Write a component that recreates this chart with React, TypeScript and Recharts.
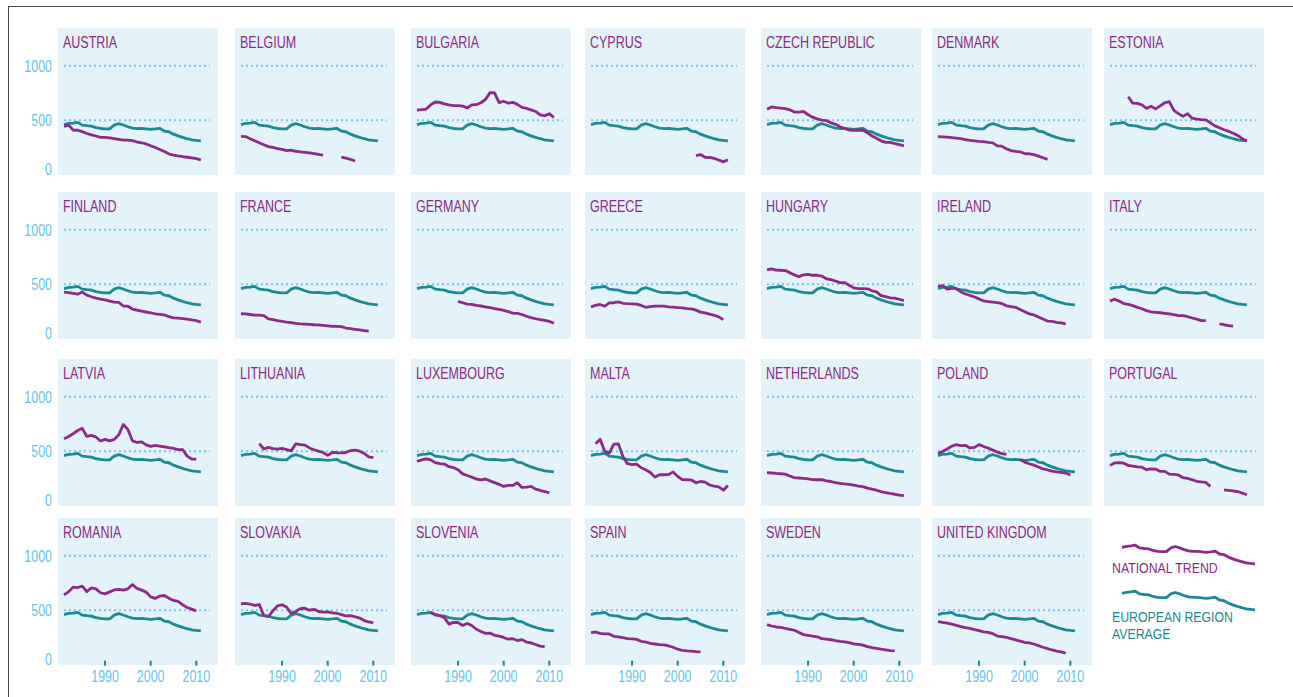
import React from 'react';
import { LineChart, Line, XAxis, YAxis, ReferenceLine } from 'recharts';

// years covered by every series
const years = [
  1981, 1982, 1983, 1984, 1985, 1986, 1987, 1988, 1989, 1990, 1991, 1992, 1993, 1994, 1995, 1996,
  1997, 1998, 1999, 2000, 2001, 2002, 2003, 2004, 2005, 2006, 2007, 2008, 2009, 2010, 2011,
];

const europeanAverage = [
  460, 470, 474, 480, 455, 450, 446, 432, 424, 421, 421, 455, 468, 456, 440, 428, 423, 424, 420, 415,
  420, 426, 400, 394, 372, 356, 342, 330, 320, 314, 310,
];

// national trends, one value per year (null = no data)
const austria = [442, 455, 410, 408, 395, 378, 366, 355, 342, 343, 338, 332, 325, 318, 317, 312, 300, 293, 282, 265, 250, 232, 212, 190, 180, 172, 165, 160, 155, 148, 135];
const belgium = [352, 350, 330, 312, 293, 275, 258, 250, 240, 232, 220, 225, 215, 210, 205, 200, 193, 186, 180, null, null, null, 162, 152, 140, 126, null, null, null, null, null];
const bulgaria = [593, 597, 602, 640, 667, 664, 650, 640, 633, 633, 630, 612, 640, 642, 660, 690, 753, 750, 662, 674, 656, 664, 645, 618, 608, 595, 580, 548, 540, 560, 525];
const cyprus = [null, null, null, null, null, null, null, null, null, null, null, null, null, null, null, null, null, null, null, null, null, null, null, 176, 185, 160, 158, 150, 135, 118, 136];
const czechRepublic = [600, 622, 616, 610, 606, 595, 575, 575, 580, 550, 528, 512, 500, 497, 476, 462, 440, 425, 410, 408, 408, 410, 385, 355, 335, 310, 297, 296, 285, 275, 265];
const denmark = [350, 347, 344, 340, 335, 330, 322, 315, 310, 306, 303, 296, 292, 265, 262, 237, 222, 214, 210, 194, 192, 185, 170, 155, 140, null, null, null, null, null, null];
const estonia = [null, null, null, null, 715, 656, 654, 640, 608, 628, 604, 632, 660, 670, 590, 560, 535, 560, 518, 509, 505, 503, 475, 448, 430, 412, 398, 380, 360, 330, 310];
const finland = [428, 422, 415, 408, 428, 400, 385, 372, 364, 357, 345, 336, 334, 300, 298, 272, 262, 252, 245, 238, 228, 224, 218, 202, 192, 188, 184, 180, 172, 165, 152];
const france = [229, 228, 222, 216, 216, 212, 182, 175, 165, 158, 152, 148, 140, 136, 134, 131, 128, 126, 122, 118, 114, 113, 110, 98, 92, 86, 80, 74, 70, null, null];
const germany = [null, null, null, null, null, null, null, null, null, 343, 330, 318, 315, 306, 300, 292, 285, 277, 268, 260, 248, 235, 232, 222, 206, 193, 183, 174, 168, 158, 142];
const greece = [292, 305, 314, 298, 328, 330, 338, 325, 322, 320, 318, 305, 288, 295, 299, 298, 298, 292, 290, 286, 282, 276, 274, 262, 244, 236, 225, 215, 200, 175, null];
const hungary = [632, 640, 630, 628, 625, 606, 585, 570, 585, 590, 582, 582, 575, 550, 543, 528, 515, 515, 490, 466, 460, 460, 458, 440, 430, 395, 385, 375, 372, 362, 350];
const ireland = [478, 488, 455, 462, 462, 430, 410, 398, 382, 365, 346, 340, 336, 330, 322, 302, 295, 288, 268, 248, 228, 218, 200, 180, 162, 158, 150, 145, 135, null, null];
const italy = [345, 362, 345, 322, 315, 303, 288, 275, 258, 246, 242, 238, 233, 228, 220, 212, 212, 202, 190, 180, 166, 165, null, null, 136, 128, 121, 115, null, null, null];
const latvia = [615, 635, 660, 690, 710, 635, 645, 630, 594, 609, 595, 608, 650, 745, 700, 595, 580, 585, 558, 545, 553, 547, 540, 532, 525, 515, 515, 455, 428, 427, null];
const lithuania = [null, null, null, null, 570, 520, 535, 524, 518, 525, 515, 503, 568, 560, 556, 530, 513, 500, 488, 462, 488, 486, 485, 488, 506, 509, 500, 480, 448, 440, null];
const luxembourg = [405, 420, 430, 420, 395, 386, 382, 358, 350, 330, 292, 277, 262, 245, 238, 245, 228, 212, 196, 177, 186, 186, 210, 168, 170, 177, 152, 140, 130, 117, null];
const malta = [null, 568, 610, 500, 482, 565, 567, 450, 385, 376, 381, 348, 330, 305, 262, 284, 284, 285, 310, 268, 240, 238, 236, 210, 222, 216, 190, 180, 172, 142, 186];
const netherlands = [303, 300, 296, 293, 290, 272, 257, 254, 250, 246, 240, 238, 240, 228, 222, 212, 205, 200, 196, 188, 180, 175, 162, 152, 142, 130, 120, 112, 105, 97, 92];
const poland = [480, 497, 520, 545, 560, 552, 554, 530, 535, 560, 543, 528, 510, 492, 478, 470, null, null, 425, 400, 385, 372, 355, 338, 328, 318, 310, 305, 300, 282, null];
const portugal = [370, 392, 394, 390, 370, 363, 356, 353, 330, 338, 336, 314, 315, 290, 287, 282, 257, 250, 238, 224, 218, 213, 177, null, null, 146, 141, 135, 130, 115, 100];
const romania = [640, 668, 712, 708, 720, 670, 705, 695, 660, 650, 668, 686, 692, 684, 696, 735, 700, 684, 666, 622, 608, 630, 635, 610, 590, 580, 550, 525, 510, 492, null];
const slovakia = [560, 563, 555, 545, 552, 450, 442, 495, 540, 550, 530, 470, 488, 515, 518, 500, 508, 488, 482, 485, 476, 472, 460, 448, 450, 440, 428, 405, 392, 383, null];
const slovenia = [null, null, null, 478, 462, 450, 432, 372, 388, 387, 360, 378, 360, 325, 305, 288, 290, 270, 262, 250, 234, 238, 222, 230, 208, 200, 185, 170, 165, null, null];
const spain = [294, 300, 288, 282, 282, 260, 255, 248, 240, 236, 232, 215, 208, 195, 190, 185, 182, 172, 160, 142, 132, 126, 124, 120, 117, null, null, null, null, null, null];
const sweden = [368, 355, 346, 342, 333, 325, 316, 296, 276, 270, 262, 256, 239, 234, 229, 220, 214, 210, 202, 192, 186, 180, 166, 156, 150, 143, 137, 130, 126, null, null];
const unitedKingdom = [396, 388, 382, 372, 360, 350, 340, 333, 322, 312, 302, 296, 285, 263, 258, 250, 240, 228, 216, 205, 200, 190, 175, 160, 148, 135, 125, 118, 105, null, null];

const countryNames = [
  'AUSTRIA', 'BELGIUM', 'BULGARIA', 'CYPRUS', 'CZECH REPUBLIC', 'DENMARK', 'ESTONIA',
  'FINLAND', 'FRANCE', 'GERMANY', 'GREECE', 'HUNGARY', 'IRELAND', 'ITALY',
  'LATVIA', 'LITHUANIA', 'LUXEMBOURG', 'MALTA', 'NETHERLANDS', 'POLAND', 'PORTUGAL',
  'ROMANIA', 'SLOVAKIA', 'SLOVENIA', 'SPAIN', 'SWEDEN', 'UNITED KINGDOM',
];
const countrySeries = [
  austria, belgium, bulgaria, cyprus, czechRepublic, denmark, estonia,
  finland, france, germany, greece, hungary, ireland, italy,
  latvia, lithuania, luxembourg, malta, netherlands, poland, portugal,
  romania, slovakia, slovenia, spain, sweden, unitedKingdom,
];

const yTicks = [0, 500, 1000];
const xTicks = [1990, 2000, 2010];

const PURPLE = '#8e2a86';
const TEAL = '#1b8a93';
const DOTS = '#6fcaec';
const TICK_BLUE = '#63c4ea';
const PANEL_BG = '#e4f2f9';
// no condensed face is installed, so Liberation Sans is squeezed horizontally
const FONT = "'Liberation Sans', Arial, sans-serif";
const SQUEEZE = 0.78;

// layout of the grid
const PANEL_LEFT = [58, 235, 411, 585, 761, 932, 1104];
const PANEL_TOP = [28, 192, 359, 518];
const PANEL_W = 160;
const PANEL_H = 147;
const AXIS_W = 60;

const XTick = (props: any) => {
  const { x, y, payload } = props;
  return (
    <g>
      <rect x={x - 1} y={y - 4} width={2} height={5} fill={TEAL} />
      <text transform={`translate(${x},${y + 17}) scale(${SQUEEZE},1)`} textAnchor="middle"
        fill={TICK_BLUE} fontSize={16} fontFamily={FONT}>
        {payload.value}
      </text>
    </g>
  );
};

const YTick = (props: any) => {
  const { x, y, payload } = props;
  const baseline = payload.value === 0 ? y + 0.5 : y + 6;
  return (
    <text transform={`translate(${x},${baseline}) scale(${SQUEEZE},1)`} textAnchor="end"
      fill={TICK_BLUE} fontSize={16} fontFamily={FONT}>
      {payload.value}
    </text>
  );
};

function Panel({ index }: { index: number }) {
  const col = index % 7;
  const row = Math.floor(index / 7);
  const left = PANEL_LEFT[col];
  const top = PANEL_TOP[row];
  const values = countrySeries[index];
  const data = years.map((year, i) => ({ year, avg: europeanAverage[i], nat: values[i] }));
  const showY = col === 0;
  const showX = row === 3;
  return (
    <>
      <div style={{ position: 'absolute', left, top, width: PANEL_W, height: PANEL_H, background: PANEL_BG }} />
      <div
        style={{
          position: 'absolute', left: left + 4.5, top: top + 5.8, color: PURPLE, fontSize: 16,
          lineHeight: '18px', fontFamily: FONT, whiteSpace: 'nowrap',
          transform: `scaleX(${SQUEEZE})`, transformOrigin: '0 0',
        }}
      >
        {countryNames[index]}
      </div>
      <div style={{ position: 'absolute', left: left - AXIS_W, top }}>
        <LineChart width={PANEL_W + AXIS_W} height={PANEL_H + 30} data={data}
          margin={{ top: 37.7, right: 8, bottom: 0.3, left: 6 }}>
          <XAxis dataKey="year" type="number" domain={[1981, 2013]} ticks={xTicks} height={30}
            axisLine={false} tickLine={false} tickSize={0} tickMargin={0}
            tick={showX ? (p: any) => <XTick {...p} /> : false} />
          <YAxis type="number" domain={[0, 1000]} ticks={yTicks} width={AXIS_W}
            axisLine={false} tickLine={false} tickSize={0} tickMargin={12}
            tick={showY ? (p: any) => <YTick {...p} /> : false} />
          <ReferenceLine y={1000} stroke={DOTS} strokeWidth={2} strokeDasharray="2 3" />
          <ReferenceLine y={500} stroke={DOTS} strokeWidth={2} strokeDasharray="2 3" />
          <Line type="linear" dataKey="avg" stroke={TEAL} strokeWidth={2.8} dot={false}
            isAnimationActive={false} strokeLinejoin="round" />
          <Line type="linear" dataKey="nat" stroke={PURPLE} strokeWidth={2.8} dot={false}
            isAnimationActive={false} strokeLinejoin="round" />
        </LineChart>
      </div>
    </>
  );
}

function LegendLine({ top, color }: { top: number; color: string }) {
  const data = years.map((year, i) => ({ year, v: europeanAverage[i] }));
  return (
    <div style={{ position: 'absolute', left: 1119, top }}>
      <LineChart width={139} height={28} data={data} margin={{ top: 3, right: 3, bottom: 3, left: 3 }}>
        <XAxis dataKey="year" type="number" domain={[1981, 2011]} hide />
        <YAxis type="number" domain={[300, 500]} hide />
        <Line type="linear" dataKey="v" stroke={color} strokeWidth={2.8} dot={false}
          isAnimationActive={false} strokeLinejoin="round" />
      </LineChart>
    </div>
  );
}

export default function App() {
  const legendText = {
    position: 'absolute' as const, left: 1112, fontSize: 15, fontFamily: FONT, lineHeight: '16px',
    height: 16, whiteSpace: 'nowrap' as const, transform: 'scaleX(0.82)', transformOrigin: '0 0',
  };
  return (
    <div style={{ position: 'relative', width: 1293, height: 697, overflow: 'hidden', background: '#fff' }}>
      <style>{'body{margin:0}'}</style>
      <div style={{
        position: 'absolute', left: 8, top: 6, width: 1400, height: 800,
        borderLeft: '1.5px solid #4a4a4a', borderTop: '1.5px solid #4a4a4a',
      }} />
      {countryNames.map((_, i) => <Panel key={i} index={i} />)}
      <LegendLine top={539.6} color={PURPLE} />
      <LegendLine top={585.5} color={TEAL} />
      <div style={{ ...legendText, top: 559.8, color: PURPLE }}>NATIONAL TREND</div>
      <div style={{ ...legendText, top: 608.8, color: TEAL }}>EUROPEAN REGION</div>
      <div style={{ ...legendText, top: 625.6, color: TEAL }}>AVERAGE</div>
    </div>
  );
}
